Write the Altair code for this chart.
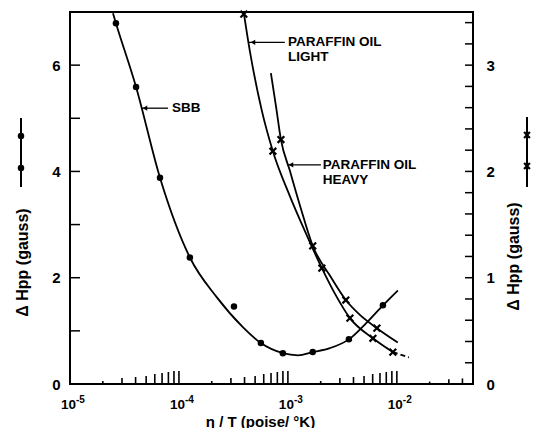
import altair as alt
import pandas as pd

# ---------------- data ----------------
# SBB (left axis, dots)
sbb_pts_x = [2.64e-5, 4.04e-5, 6.70e-5, 1.26e-4, 3.20e-4, 5.65e-4, 8.99e-4, 1.69e-3, 3.63e-3, 7.45e-3]
sbb_pts_y = [6.79, 5.59, 3.88, 2.38, 1.46, 0.77, 0.58, 0.60, 0.84, 1.48]
sbb_curve_x = [2.48e-5, 2.64e-5, 4.04e-5, 6.70e-5, 1.26e-4, 2.23e-4, 3.86e-4, 5.65e-4,
               8.99e-4, 1.24e-3, 1.69e-3, 2.43e-3, 3.63e-3, 5.31e-3, 7.45e-3, 1.02e-2]
sbb_curve_y = [6.975, 6.79, 5.59, 3.88, 2.38, 1.63, 1.07, 0.77,
               0.58, 0.54, 0.60, 0.675, 0.84, 1.16, 1.48, 1.76]

# Paraffin oil light (right axis, crosses)
light_pts_x = [3.94e-4, 7.28e-4, 2.05e-3, 3.71e-3, 6.03e-3, 9.19e-3]
light_pts_y = [3.48, 2.19, 1.09, 0.62, 0.43, 0.30]
light_curve_x = [3.94e-4, 4.48e-4, 5.77e-4, 7.28e-4, 1.04e-3, 1.43e-3, 2.05e-3, 2.70e-3,
                 3.71e-3, 6.03e-3, 9.19e-3]
light_curve_y = [3.49, 3.13, 2.57, 2.19, 1.77, 1.44, 1.09, 0.85, 0.62, 0.43, 0.30]
light_dash_x = [9.19e-3, 1.29e-2]
light_dash_y = [0.30, 0.25]

# Paraffin oil heavy (right axis, crosses)
heavy_pts_x = [8.63e-4, 1.69e-3, 3.40e-3, 6.56e-3]
heavy_pts_y = [2.30, 1.30, 0.79, 0.525]
heavy_curve_x = [6.98e-4, 7.76e-4, 8.63e-4, 1.04e-3, 1.29e-3, 1.69e-3, 2.43e-3, 3.40e-3,
                 4.58e-3, 6.56e-3, 1.02e-2]
heavy_curve_y = [2.925, 2.62, 2.30, 2.01, 1.68, 1.30, 1.02, 0.79, 0.65, 0.525, 0.39]

# axis labels
decade_vals = [1e-5, 1e-4, 1e-3, 1e-2]
decade_exp = ["-5", "-4", "-3", "-2"]
left_tick_labels = [0, 2, 4, 6]
right_tick_labels = [0, 1, 2, 3]

# annotations
ann_text = ["SBB", "PARAFFIN OIL", "LIGHT", "PARAFFIN OIL", "HEAVY"]
ann_x = [8.63e-5, 1.0e-3, 1.0e-3, 2.09e-3, 2.09e-3]
ann_y = [5.19, 6.43, 6.16, 4.125, 3.84]
arrow_tip_x = [4.48e-5, 4.39e-4, 9.8e-4]
arrow_tail_x = [7.93e-5, 9.37e-4, 2.01e-3]
arrow_y = [5.19, 6.43, 4.125]

# ---------------- styling ----------------
FONT = "Liberation Sans"
W, H = 403, 372
YMAX_L, YMAX_R = 7.0, 3.5
CROSS = "M-1,-1L1,1M-1,1L1,-1"

xs = alt.Scale(type="log", domain=[1e-5, 5e-2], nice=False)
ls = alt.Scale(domain=[0, YMAX_L], nice=False, zero=False)
rs = alt.Scale(domain=[0, YMAX_R], nice=False, zero=False)

x_axis = alt.Axis(labels=False, ticks=False, domain=False, grid=False,
                  title="η / T  (poise/ °K)", titleFont=FONT, titleFontWeight="bold",
                  titleFontSize=15, titleColor="black", titleX=190, titleY=42,
                  titleBaseline="alphabetic", titleAlign="center")
l_axis = alt.Axis(values=left_tick_labels, ticks=False, tickSize=0, domain=False, grid=False,
                  labelFont=FONT, labelFontWeight="bold", labelFontSize=15, labelColor="black",
                  labelPadding=10, title="Δ Hpp (gauss)", titleFont=FONT, titleFontWeight="bold",
                  titleFontSize=16, titleColor="black", titleAngle=270, titleX=-48, titleY=250,
                  titleAlign="center", titleBaseline="middle")
r_axis = alt.Axis(orient="right", values=right_tick_labels, ticks=False, tickSize=0, domain=False,
                  grid=False, labelFont=FONT, labelFontWeight="bold", labelFontSize=15,
                  labelColor="black", labelPadding=13, title="Δ Hpp (gauss)", titleFont=FONT,
                  titleFontWeight="bold", titleFontSize=16, titleColor="black", titleAngle=270,
                  titleX=40, titleY=244, titleAlign="center", titleBaseline="middle")


def X(f):
    return alt.X(f, type="quantitative", scale=xs, axis=x_axis)


def YL(f):
    return alt.Y(f, type="quantitative", scale=ls, axis=l_axis)


def YR(f):
    return alt.Y(f, type="quantitative", scale=rs, axis=r_axis)


one = pd.DataFrame({"a": [0]})

# ---------------- left layer (SBB) ----------------
sbb_line = alt.Chart(pd.DataFrame({"x": sbb_curve_x, "y": sbb_curve_y})).mark_line(
    color="black", strokeWidth=1.8, interpolate="monotone").encode(x=X("x"), y=YL("y"))
sbb_dots = alt.Chart(pd.DataFrame({"x": sbb_pts_x, "y": sbb_pts_y})).mark_circle(
    color="black", size=42, opacity=1).encode(x=X("x"), y=YL("y"))

# inward minor ticks along the bottom
tick_h = {2: 3, 3: 6, 4: 7, 5: 8, 6: 10, 7: 11, 8: 12, 9: 13, 10: 13}
rows = []
for d in decade_vals[:3]:
    for m in range(2, 11):
        rows.append({"x": d * m, "y": 0.0, "y1": tick_h[m] * YMAX_L / H})
for m in (2, 3, 4):
    rows.append({"x": decade_vals[3] * m, "y": 0.0, "y1": tick_h[m] * 0.8 * YMAX_L / H})
minor = alt.Chart(pd.DataFrame(rows)).mark_rule(color="black", strokeWidth=1.6).encode(
    x=X("x"), y=YL("y"), y2="y1:Q")

lticks = alt.Chart(pd.DataFrame({"y": [1, 2, 3, 4, 5, 6]})).mark_rule(
    color="black", strokeWidth=1.5).encode(y=YL("y"), x=alt.value(0), x2=alt.value(10))

dec_df = pd.DataFrame({"x": decade_vals, "e": decade_exp, "b": ["10"] * 4})
ten = alt.Chart(dec_df).mark_text(font=FONT, fontWeight="bold", fontSize=13.5, align="right",
                                  baseline="alphabetic", dx=6, color="black").encode(
    x=X("x"), y=alt.value(H + 25), text="b:N")
exps = alt.Chart(dec_df).mark_text(font=FONT, fontWeight="bold", fontSize=10, align="left",
                                   baseline="alphabetic", dx=6, color="black").encode(
    x=X("x"), y=alt.value(H + 19), text="e:N")

ann = alt.Chart(pd.DataFrame({"x": ann_x, "y": ann_y, "t": ann_text})).mark_text(
    font=FONT, fontWeight="bold", fontSize=13.5, align="left", baseline="middle",
    color="black").encode(x=X("x"), y=YL("y"), text="t:N")
arr_df = pd.DataFrame({"x": arrow_tip_x, "tail": arrow_tail_x, "y": arrow_y})
arrows = alt.Chart(arr_df).mark_rule(color="black", strokeWidth=1.3).encode(
    x=X("x"), x2="tail:Q", y=YL("y"))
heads = alt.Chart(arr_df).mark_point(shape="triangle-left", filled=True, size=28, color="black",
                                     opacity=1, xOffset=4).encode(x=X("x"), y=YL("y"))

lg_line = alt.Chart(one).mark_rule(color="black", strokeWidth=2).encode(
    x=alt.value(-49), y=alt.value(106), y2=alt.value(175))
lg_d1 = alt.Chart(one).mark_circle(color="black", size=42, opacity=1).encode(
    x=alt.value(-49), y=alt.value(124))
lg_d2 = alt.Chart(one).mark_circle(color="black", size=42, opacity=1).encode(
    x=alt.value(-49), y=alt.value(156))

left = alt.layer(sbb_line, sbb_dots, minor, lticks, ten, exps, ann, arrows, heads,
                 lg_line, lg_d1, lg_d2)

# ---------------- right layer (paraffin oils) ----------------
light_line = alt.Chart(pd.DataFrame({"x": light_curve_x, "y": light_curve_y})).mark_line(
    color="black", strokeWidth=1.8, interpolate="monotone").encode(x=X("x"), y=YR("y"))
light_dash = alt.Chart(pd.DataFrame({"x": light_dash_x, "y": light_dash_y})).mark_line(
    color="black", strokeWidth=1.8, strokeDash=[5, 3]).encode(x=X("x"), y=YR("y"))
light_x = alt.Chart(pd.DataFrame({"x": light_pts_x, "y": light_pts_y})).mark_point(
    shape=CROSS, size=45, filled=False, strokeWidth=2.2, color="black", opacity=1).encode(
    x=X("x"), y=YR("y"))
heavy_line = alt.Chart(pd.DataFrame({"x": heavy_curve_x, "y": heavy_curve_y})).mark_line(
    color="black", strokeWidth=1.8, interpolate="monotone").encode(x=X("x"), y=YR("y"))
heavy_x = alt.Chart(pd.DataFrame({"x": heavy_pts_x, "y": heavy_pts_y})).mark_point(
    shape=CROSS, size=45, filled=False, strokeWidth=2.2, color="black", opacity=1).encode(
    x=X("x"), y=YR("y"))

rticks = alt.Chart(pd.DataFrame({"y": [round(0.2 * i, 1) for i in range(1, 18)]})).mark_rule(
    color="black", strokeWidth=1.5).encode(y=YR("y"), x=alt.value(W - 8), x2=alt.value(W))

rg_line = alt.Chart(one).mark_rule(color="black", strokeWidth=2).encode(
    x=alt.value(W + 54), y=alt.value(105), y2=alt.value(175))
rg_x1 = alt.Chart(one).mark_point(shape=CROSS, size=34, filled=False, strokeWidth=2.2,
                                  color="black", opacity=1).encode(x=alt.value(W + 54), y=alt.value(123))
rg_x2 = alt.Chart(one).mark_point(shape=CROSS, size=34, filled=False, strokeWidth=2.2,
                                  color="black", opacity=1).encode(x=alt.value(W + 54), y=alt.value(154))

right = alt.layer(light_line, light_dash, light_x, heavy_line, heavy_x, rticks,
                  rg_line, rg_x1, rg_x2)

chart = alt.layer(left, right).resolve_scale(y="independent").properties(
    width=W, height=H,
    background="white",
    autosize=alt.AutoSizeParams(type="none"),
    padding={"left": 62, "top": 4, "right": 58, "bottom": 44},
).configure_view(stroke="black", strokeWidth=2)

chart.save("out.html", embed_options={"renderer": "svg", "actions": False})
